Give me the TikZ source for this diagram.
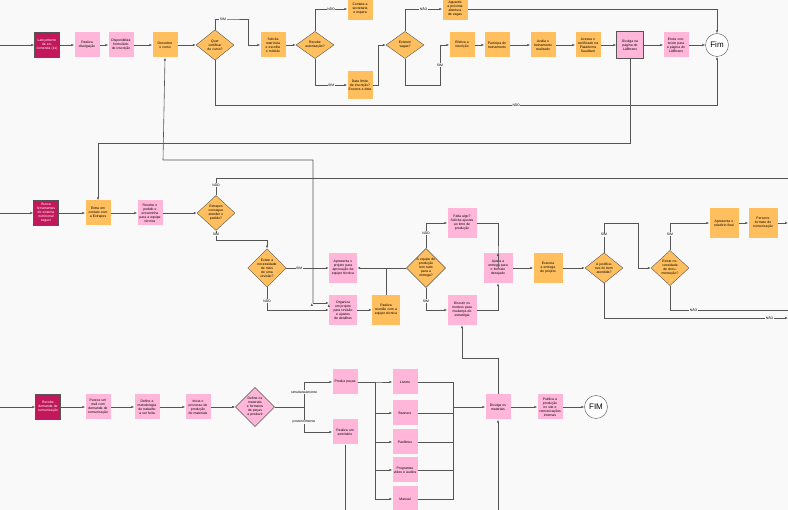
\documentclass[tikz,border=0pt]{standalone}
\usepackage{fontspec}
\setmainfont{Liberation Sans}
\usetikzlibrary{shapes.geometric,arrows.meta}
\definecolor{org}{HTML}{FFBF5F}
\definecolor{pnk}{HTML}{FFB6D9}
\definecolor{mag}{HTML}{C2185B}
\definecolor{bg}{HTML}{F9F9F9}
\definecolor{ln}{HTML}{555555}
\begin{document}
\begin{tikzpicture}[x=1pt,y=-1pt,
 every node/.style={font=\fontsize{3.4}{4}\selectfont,align=center,inner sep=0.5pt},
 box/.style={minimum width=25pt,minimum height=25pt,text width=23pt},
 ob/.style={box,fill=org},
 pb/.style={box,fill=pnk},
 mb/.style={box,fill=mag,draw=ln,text=white},
 dia/.style={diamond,aspect=1,minimum width=38pt,inner sep=0pt,text width=20pt,draw=ln,fill=org},
 fim/.style={circle,draw=ln,fill=white,minimum size=23pt,font=\fontsize{8}{9}\selectfont},
 lab/.style={fill=bg,font=\fontsize{3.4}{4}\selectfont},
 ar/.style={draw=ln,line width=0.6pt,-{Latex[length=3pt,width=2.4pt]}},
 li/.style={draw=ln,line width=0.6pt}]
\fill[bg] (0,0) rectangle (788,510);
\useasboundingbox (0,0) rectangle (788,510);
% row 1
\coordinate (s1) at (0,45);
\node[mb] (m1) at (47,45) {Lançamento de encomenda (1x)};
\node[pb] (p1) at (87,45) {Realiza divulgação};
\node[pb] (p2) at (121,45) {Disponibiliza formulário de inscrição};
\node[ob] (o1) at (165,45) {Descobre o curso};
\node[dia] (d1) at (215,45) {Quer certificar do curso?};
\node[ob] (o2) at (273,45) {Solicita matrícula e escolhe o módulo};
\node[dia] (d2) at (315,45) {Recebe autorização?};
\node[ob,minimum height=22pt] (o3) at (360,9) {Contata a secretaria e espera};
\node[ob,minimum height=28pt] (o4) at (360,85) {Data limite de inscrição? Encerra a data};
\node[dia] (d3) at (405,45) {Existem vagas?};
\node[ob,minimum height=22pt] (o5) at (455,9) {Aguarda a próxima abertura de vagas};
\node[ob] (o6) at (462,45) {Efetiva a inscrição};
\node[ob] (o7) at (497,45) {Participa do treinamento};
\node[ob] (o8) at (543,45) {Avalia o treinamento realizado};
\node[ob] (o9) at (588,45) {Acessa o certificado na Plataforma Saudável};
\node[pb,draw=ln,minimum width=27pt,minimum height=27pt] (pm) at (630,45) {Divulga na página do LABtrans};
\node[pb] (p3) at (676,45) {Envia conteúdo para a página do LABtrans};
\node[fim] (f1) at (717,45) {Fim};
\draw[ar] (s1)--(m1); \draw[ar] (m1)--(p1); \draw[ar] (p1)--(p2); \draw[ar] (p2)--(o1); \draw[ar] (o1)--(d1);
\draw[ar] (d1.north) |- (231,19) node[lab,pos=0.75]{SIM} -| (248,45) -- (o2);
\draw[ar] (o2)--(d2);
\draw[ar] (d1.south) |- (717,105) node[lab,pos=0.8]{NÃO} -- (f1.south);
\draw[ar] (d2.north) |- (o3.west) node[lab,pos=0.75]{NÃO};
\draw[ar] (d2.south) |- (o4.west) node[lab,pos=0.75]{SIM};
\draw[ar] (o4.east) -| (378,45) -- (d3.west);
\draw[ar] (d3.north) |- (o5.west) node[lab,pos=0.75]{NÃO};
\draw[ar] (o5.east) -| (f1.north);
\draw[ar] (d3.south) |- (440,85) -| node[lab,pos=0.75]{SIM} (440,45) -- (o6.west);
\draw[ar] (o6)--(o7); \draw[ar] (o7)--(o8); \draw[ar] (o8)--(o9); \draw[ar] (o9)--(pm); \draw[ar] (pm)--(p3); \draw[ar] (p3)--(f1);
% row 2
\coordinate (s2) at (0,213);
\node[mb] (m2) at (46,213) {Busca ferramentas de sistema nutricional seguro};
\node[ob] (o10) at (98,213) {Entra em contato com a Extrapes};
\node[pb] (p4) at (150,213) {Recebe o pedido e encaminha para a equipe técnica};
\node[dia] (d4) at (216,213) {Extrapes consegue atender o pedido?};
\node[dia] (d5) at (267,268) {Existe a necessidade de mais de uma revisão?};
\node[pb,minimum width=28pt,minimum height=30pt] (p5) at (343,268) {Apresenta o projeto para aprovação da equipe técnica};
\node[pb,minimum width=28pt,minimum height=30pt] (p6) at (343,310) {Organiza um projeto para revisão e ajustes de detalhes};
\node[ob,minimum width=28pt,minimum height=30pt] (o11) at (386,310) {Realiza reunião com a equipe técnica};
\node[dia] (d6) at (426,268) {A equipe de produção tem tudo para a entrega?};
\node[pb,minimum width=29pt,minimum height=30pt] (p7) at (462,223) {Falta algo? Solicita ajustes ao time de produção};
\node[pb,minimum width=29pt,minimum height=30pt] (p8) at (462,310) {Discutir os motivos para mudança de estratégia};
\node[pb,minimum width=29pt,minimum height=30pt] (p9) at (498,268) {Ajusta a entrega para o formato desejado};
\node[ob,minimum width=29pt,minimum height=30pt] (o12) at (548,268) {Executa a entrega do projeto};
\node[dia] (d7) at (604,268) {A justificativa foi bem atendida?};
\node[dia] (d8) at (670,268) {Existe necessidade de documentação?};
\node[ob,minimum width=29pt,minimum height=30pt] (o13) at (724,223) {Apresenta o relatório final};
\node[ob,minimum width=29pt,minimum height=30pt] (o14) at (763,223) {Percorre formato de comunicação};
\coordinate (e1) at (788,178); \coordinate (e2) at (788,223); \coordinate (e3) at (788,318); \coordinate (e4) at (788,310);
\draw[ar] (s2)--(m2); \draw[ar] (m2)--(o10); \draw[ar] (o10)--(p4); \draw[ar] (p4)--(d4);
\draw[ar] (pm.south) |- (98,143) -- (o10.north);
\draw[li] (d4.north) |- node[lab,pos=0.3]{NÃO} (e1);
\draw[ar] (d4.south) |- node[lab,pos=0.2]{SIM} (267,240) -- (d5.north);
\draw[ar] (d5.east) -- node[lab,pos=0.3]{SIM} (p5.west);
\draw[ar] (d5.south) |- node[lab,pos=0.3]{NÃO} (p6.west);
\draw[ar] (p6)--(o11);
\draw[ar] (d6.west)--(p5.east);
\draw[li] (o11.north) -- (386,268);
\draw[ar] (p7.east) -| (498,268) -- (p9.north);
\draw[ar] (d6.north) |- node[lab,pos=0.3]{NÃO} (p7.west);
\draw[ar] (d6.south) |- node[lab,pos=0.3]{SIM} (p8.west);
\draw[ar] (p8.east) -| (p9.south);
\draw[ar] (p9)--(o12); \draw[ar] (o12)--(d7);
\draw[ar] (d7.north) |- node[lab,pos=0.3]{SIM} (638,223) |- (d8.west);
\draw[ar] (d7.south) |- (e3) node[lab,pos=0.95]{NÃO};
\draw[ar] (d8.north) |- node[lab,pos=0.3]{SIM} (o13.west);
\draw[li] (d8.south) |- (e4) node[lab,pos=0.6]{NÃO};
\draw[ar] (o13)--(o14); \draw[ar] (o14)--(e2);
\draw[ar] (p5.west) ++(0,36) coordinate (q) ;
\draw[ar] (p6.west) ++(-17,-7) coordinate (r);
\draw[ar] (343,295) ++(-30,8) -- (p6.west |- 303,303);
\draw[ar] (313,303) -- (313,160) -- (163,160) -- (o1.south);
% row 3
\coordinate (s3) at (0,407);
\node[mb] (m3) at (48,407) {Recebe demanda de comunicação};
\node[pb] (p10) at (98,407) {Parece um mail com demanda de comunicação};
\node[pb] (p11) at (147,407) {Define a metodologia de trabalho a ser feita};
\node[pb] (p12) at (198,407) {Inicia o processo de produção de materiais};
\node[dia,fill=pnk] (d9) at (255,407) {Define os materiais e formatos de peças a produzir};
\node[pb] (p13) at (345,382) {Produz peças};
\node[pb] (p14) at (345,432) {Realiza um seminário};
\node[pb] (p15) at (405,382) {Livreto};
\node[pb] (p16) at (405,413) {Banners};
\node[pb] (p17) at (405,442) {Panfletos};
\node[pb] (p18) at (405,470) {Programas vídeo e áudios};
\node[pb] (p19) at (405,499) {Manual};
\node[pb] (p20) at (498,407) {Divulga os materiais};
\node[pb] (p21) at (550,407) {Publica a produção no site e comunicações internas};
\node[fim] (f2) at (596,407) {FIM};
\draw[ar] (s3)--(m3); \draw[ar] (m3)--(p10); \draw[ar] (p10)--(p11); \draw[ar] (p11)--(p12); \draw[ar] (p12)--(d9);
\draw[li] (d9.east) -- (304,407);
\draw[ar] (304,407) |- node[lab,pos=0.3]{simultaneamente} (p13.west);
\draw[ar] (304,407) |- node[lab,pos=0.3]{posteriormente} (p14.west);
\draw[li] (p14.south) -- (345,510);
\foreach \n in {p15,p16,p17,p18,p19}{
 \draw[ar] (p13.east) -- (375,382) |- (\n.west);
 \draw[li] (\n.east) -| (453,407);}
\draw[ar] (453,407) -- (p20.west);
\draw[ar] (p20.north) -- (498,358) -| (p8.south);
\draw[ar] (498,510) -- (p20.south);
\draw[ar] (p20)--(p21); \draw[ar] (p21)--(f2);
\end{tikzpicture}
\end{document}
